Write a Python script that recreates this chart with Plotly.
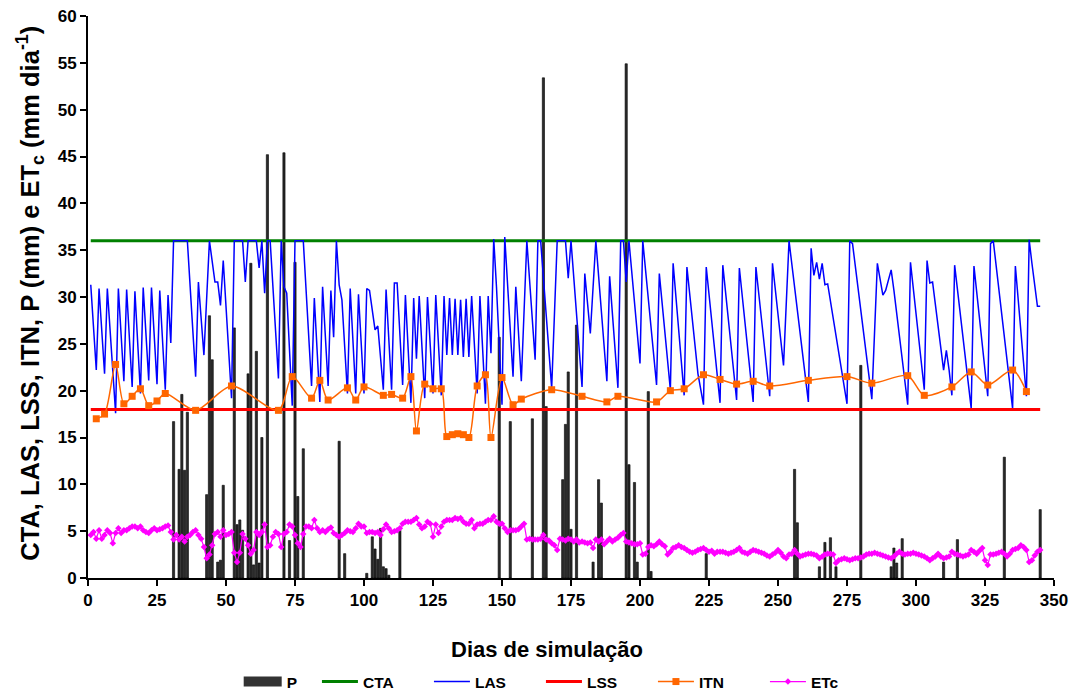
import plotly.graph_objects as go

# ---------------- data ----------------
P_days = [31, 33, 34, 35, 36, 43, 44, 45, 47, 48, 49, 53, 54, 55, 56, 58, 59, 60, 61, 62, 63,
          65, 71, 73, 75, 76, 78, 91, 93, 101, 103, 104, 105, 106, 107, 108, 109, 113,
          149, 153, 161, 165, 166, 172, 173, 174, 175, 177, 183, 185, 186, 195, 196, 198, 199,
          203, 204, 224, 256, 257, 265, 267, 269, 271, 280, 291, 292, 293, 295, 310, 315, 332, 345]
P_vals = [16.7, 11.6, 19.6, 11.5, 17.7, 8.9, 28.0, 23.3, 1.7, 1.9, 9.9, 26.7, 5.7, 6.2, 5.1, 21.8, 33.6, 1.4, 24.2, 1.6, 15.0,
          45.2, 45.4, 4.0, 33.7, 8.7, 13.8, 14.6, 2.6, 0.5, 4.4, 3.1, 2.0, 5.3, 1.2, 1.0, 0.3, 5.1,
          25.7, 16.7, 17.0, 53.4, 18.3, 10.5, 16.4, 22.0, 5.2, 27.0, 1.7, 10.5, 8.0, 54.9, 12.1, 10.2, 1.7,
          19.9, 0.7, 2.6, 11.6, 5.9, 1.2, 3.8, 4.3, 1.2, 22.7, 1.2, 3.2, 1.6, 4.2, 1.7, 4.1, 12.9, 7.3]

CTA_value = 36.0
LSS_value = 18.0
line_days = [1, 345]

LAS_days = [1, 3, 4, 6, 7, 10, 11, 13, 14, 16, 17, 19, 20, 22, 23, 25, 26, 28, 29, 30, 31, 36, 39, 40, 42, 44,
            46, 47, 48, 49, 52, 53, 56, 57, 58, 61, 62, 63, 64, 65, 66, 69, 70, 71, 72, 74, 75, 78, 81, 82,
            84, 85, 87, 88, 89, 90, 91, 92, 94, 95, 97, 98, 100, 101, 102, 104, 105, 107, 108, 110, 111, 112,
            114, 115, 117, 118, 119, 120, 122, 123, 125, 126, 128, 129, 130, 131, 132, 133, 134, 135, 136, 137,
            138, 139, 141, 142, 144, 145, 146, 147, 148, 150, 151, 154, 155, 157, 159, 162, 163, 164, 168, 170,
            173, 174, 175, 179, 180, 182, 184, 188, 189, 192, 193, 194, 195, 196, 200, 201, 206, 207, 211, 212,
            216, 217, 221, 223, 224, 229, 230, 235, 236, 241, 242, 247, 248, 252, 254, 261, 262, 263, 264, 265,
            266, 267, 268, 275, 276, 277, 284, 286, 288, 289, 291, 292, 297, 298, 303, 304, 305, 306, 310, 311,
            312, 313, 314, 320, 321, 326, 327, 328, 335, 336, 340, 341, 342, 344, 345]
LAS_vals = [31.3, 22.2, 30.9, 21.8, 30.9, 17.6, 30.9, 21.0, 30.8, 20.4, 30.6, 19.7, 31.0, 21.1, 31.0, 20.7, 30.7, 20.1, 30.2, 25.1, 36, 36, 21.5, 31.6, 23.8, 36,
            31.6, 31.6, 29.1, 33.9, 19.2, 36, 36, 31.6, 36, 36, 33.1, 36, 30.4, 36, 36, 21.3, 36, 31.1, 30.4, 18.4, 36, 36, 20.5, 29.9,
            18.8, 31.1, 20.5, 30.7, 25.7, 36, 31.3, 29.7, 19.7, 30.9, 19.7, 30.3, 19.7, 30.9, 30.7, 26.5, 26.9, 20.1, 30.8, 20.1, 31.5, 31.5,
            20.6, 30.2, 18.7, 29.9, 23.4, 30.1, 19.2, 30.0, 19.7, 30.2, 19.5, 30.1, 23.8, 29.9, 23.8, 29.8, 23.8, 29.7, 23.6, 29.8,
            23.6, 30.1, 19.7, 30.1, 18.6, 30.1, 24.0, 36.2, 31.1, 18.5, 36.4, 21.5, 31.1, 21.0, 36, 23.3, 36, 36, 20.3, 36,
            36, 32.0, 36, 20.4, 32.5, 26.1, 36, 21.0, 32.2, 20.3, 36, 36, 31.6, 36, 22.9, 36, 20.6, 32.5, 20.1, 33.6,
            19.5, 33.2, 21.8, 18.5, 33.2, 18.7, 33.4, 19.0, 33.1, 18.8, 33.2, 19.4, 33.6, 22.7, 36, 18.8, 35.2, 32.3, 33.7, 31.9,
            33.6, 31.3, 31.4, 18.6, 36, 35.7, 19.1, 33.6, 30.2, 30.7, 32.9, 30.7, 18.5, 33.7, 20.1, 33.9, 31.5, 31.6, 22.2, 24.3,
            22.2, 19.5, 33.4, 18.1, 33.3, 19.4, 35.7, 36, 18.1, 33.3, 19.4, 36.1, 33.6, 29.0, 29.0]

ITN_days = [3, 6, 10, 13, 16, 19, 22, 25, 28, 39, 52, 69, 74, 81, 84, 87, 94, 97, 100, 107, 110, 114, 117, 119,
            122, 125, 128, 130, 132, 134, 136, 138, 141, 144, 146, 150, 154, 157, 168, 179, 188, 192, 206, 211,
            216, 223, 229, 235, 241, 247, 261, 275, 284, 297, 303, 313, 320, 326, 335, 340]
ITN_vals = [17.0, 17.5, 22.8, 18.6, 19.4, 20.2, 18.4, 18.9, 19.7, 17.9, 20.5, 17.9, 21.5, 19.2, 21.1, 19.0, 20.3, 19.0, 20.4, 19.5, 19.6, 19.2, 21.5, 15.7,
            20.7, 20.2, 20.2, 15.1, 15.3, 15.4, 15.3, 15.0, 20.5, 21.7, 15.0, 21.4, 18.5, 19.1, 20.1, 19.4, 18.8, 19.4, 18.8, 20.0,
            20.2, 21.7, 21.2, 20.7, 21.0, 20.5, 21.1, 21.5, 20.8, 21.6, 19.5, 20.4, 22.0, 20.6, 22.2, 19.9]

ETc_vals = [
    4.6, 4.9, 4.2, 5.1, 4.2, 4.6, 5.1, 4.8, 3.7, 4.8,
    5.3, 4.8, 5.1, 5.1, 5.3, 5.5, 5.5, 5.3, 5.5, 5.1,
    4.9, 4.8, 5.1, 5.3, 5.1, 5.2, 5.3, 5.5, 5.6, 4.9,
    4.1, 4.6, 4.1, 4.4, 3.9, 4.4, 4.6, 4.9, 5.1, 4.6,
    4.2, 3.3, 2.1, 2.5, 3.5, 4.7, 4.9, 4.4, 5.1, 4.6,
    4.7, 4.9, 2.7, 1.7, 2.7, 4.7, 4.2, 3.5, 2.6, 3.0,
    4.9, 4.6, 4.9, 5.7, 3.3, 3.5, 4.4, 4.9, 4.7, 3.3,
    4.7, 4.9, 5.7, 5.5, 4.6, 3.7, 3.3, 4.7, 5.5, 5.5,
    5.3, 6.2, 5.3, 4.9, 5.1, 4.9, 5.2, 5.4, 4.8, 4.6,
    4.4, 4.6, 4.8, 5.1, 5.0, 4.9, 5.3, 5.8, 5.5, 5.5,
    4.8, 4.9, 4.9, 4.8, 4.9, 4.6, 5.2, 5.7, 5.3, 4.9,
    5.0, 5.1, 5.3, 5.8, 6.0, 6.0, 6.0, 6.2, 6.4, 5.7,
    5.3, 5.5, 6.0, 5.8, 4.4, 5.7, 4.8, 5.5, 6.0, 6.2,
    6.2, 6.2, 6.4, 6.3, 6.4, 6.0, 5.8, 5.8, 6.2, 5.3,
    5.7, 5.8, 5.8, 6.0, 6.2, 6.2, 6.6, 6.0, 5.8, 5.8,
    5.3, 4.9, 5.1, 5.1, 5.1, 5.2, 5.5, 5.8, 4.1, 4.2,
    4.1, 4.1, 4.1, 4.2, 4.6, 4.1, 4.0, 3.7, 3.5, 3.0,
    4.2, 4.1, 4.0, 4.2, 4.1, 3.9, 4.1, 3.8, 3.9, 3.8,
    3.7, 3.8, 3.2, 4.1, 3.9, 4.1, 3.6, 3.9, 4.2, 3.9,
    4.1, 4.3, 4.6, 4.8, 3.9, 3.8, 3.7, 3.6, 3.6, 3.7,
    2.5, 2.6, 3.3, 3.5, 3.4, 3.6, 3.9, 3.6, 3.4, 2.5,
    2.8, 3.2, 3.3, 3.5, 3.3, 3.2, 3.0, 2.8, 2.7, 2.8,
    3.0, 3.1, 3.2, 3.0, 2.8, 2.9, 2.6, 2.8, 2.8, 2.8,
    2.7, 2.6, 2.7, 2.8, 3.0, 3.2, 2.8, 2.7, 2.6, 2.8,
    3.0, 2.9, 2.8, 2.7, 2.6, 2.4, 2.3, 2.5, 2.7, 3.0,
    2.7, 2.3, 2.1, 2.5, 2.6, 3.0, 2.6, 2.3, 2.4, 2.5,
    2.6, 2.6, 2.5, 2.4, 2.1, 2.3, 2.5, 2.6, 2.6, 2.5,
    1.6, 1.9, 2.0, 2.1, 2.0, 1.9, 2.0, 2.1, 2.1, 2.2,
    2.3, 2.5, 2.6, 2.6, 2.7, 2.6, 2.5, 2.4, 2.3, 2.2,
    2.1, 2.3, 2.6, 2.8, 2.6, 2.5, 2.6, 2.6, 2.7, 2.6,
    2.5, 2.4, 2.3, 2.1, 1.9, 2.1, 2.3, 2.6, 2.3, 2.1,
    2.2, 2.3, 2.8, 2.6, 2.5, 2.4, 2.3, 2.4, 2.5, 3.0,
    2.8, 2.6, 2.9, 3.2, 1.9, 1.4, 2.5, 2.5, 2.6, 2.7,
    2.8, 2.6, 2.3, 2.6, 3.0, 3.1, 3.2, 3.5, 3.3, 3.0,
    1.7, 1.9, 2.4, 2.8, 3.0]
ETc_days = list(range(1, len(ETc_vals) + 1))

x_ticks = list(range(0, 351, 25))
y_ticks = list(range(0, 61, 5))

# ---------------- figure ----------------
FONT = "Liberation Sans, Arial, sans-serif"
LEG_FONT = dict(family=FONT, size=15.5, color="black", weight="bold")

fig = go.Figure()
fig.add_trace(go.Bar(x=P_days, y=P_vals, name="P", width=0.8, legendgroup="P", showlegend=False,
                     marker=dict(color="#2a2a2a", line=dict(color="black", width=0.6))))
# legend swatch for P (wide dark box like the reference), in its own legend
fig.add_trace(go.Scatter(x=[None], y=[None], name="P", mode="lines", legendgroup="P",
                         legend="legend2", line=dict(color="#333333", width=13)))
fig.add_trace(go.Scatter(x=line_days, y=[CTA_value] * 2, name="CTA", mode="lines",
                         line=dict(color="#008000", width=3)))
fig.add_trace(go.Scatter(x=LAS_days, y=LAS_vals, name="LAS", mode="lines",
                         line=dict(color="#0000ff", width=1.5)))
fig.add_trace(go.Scatter(x=line_days, y=[LSS_value] * 2, name="LSS", mode="lines",
                         line=dict(color="#ff0000", width=3)))
fig.add_trace(go.Scatter(x=ITN_days, y=ITN_vals, name="ITN", mode="lines+markers",
                         line=dict(color="#ff6600", width=1.5, shape="spline", smoothing=0.8),
                         marker=dict(symbol="square", size=7, color="#ff6600")))
fig.add_trace(go.Scatter(x=ETc_days, y=ETc_vals, name="ETc", mode="lines+markers",
                         line=dict(color="#ff00ff", width=1.2),
                         marker=dict(symbol="diamond", size=5, color="#ff00ff")))

axis_common = dict(showline=True, linecolor="black", linewidth=2, ticks="outside",
                   ticklen=6, tickwidth=2, tickcolor="black", showgrid=False, zeroline=False,
                   automargin=False, ticklabeloverflow="allow",
                   tickfont=dict(family=FONT, size=17, color="black", weight="bold"))

fig.update_xaxes(range=[0, 350], tickvals=x_ticks, **axis_common)
fig.update_yaxes(range=[0, 60], tickvals=y_ticks, **axis_common)

# the page body adds an 8 px offset, so margins are set 8 px smaller at top/left
fig.update_layout(
    width=1077, height=691,
    margin=dict(l=80, r=31, t=8, b=121, autoexpand=False),
    plot_bgcolor="white", paper_bgcolor="white",
    bargap=0.2,
    showlegend=True,
    legend=dict(orientation="h", x=0.237, xanchor="left", y=-0.185, yanchor="middle",
                font=LEG_FONT, itemwidth=36, entrywidth=61, entrywidthmode="pixels",
                traceorder="normal"),
    legend2=dict(orientation="h", x=0.156, xanchor="left", y=-0.185, yanchor="middle",
                 font=LEG_FONT, itemwidth=38),
    annotations=[
        dict(text="Dias de simulação", x=0.475, y=-0.128, xref="paper", yref="paper",
             xanchor="center", yanchor="middle", showarrow=False,
             font=dict(family=FONT, size=22, color="black", weight="bold")),
        dict(text="CTA, LAS, LSS, ITN, P (mm) e ET<sub>c</sub> (mm dia<sup>-1</sup>)",
             x=-0.060, y=0.506, xref="paper", yref="paper", textangle=-90,
             xanchor="center", yanchor="middle", showarrow=False,
             font=dict(family=FONT, size=25.5, color="black", weight="bold")),
    ],
)

fig.write_html("out.html")
